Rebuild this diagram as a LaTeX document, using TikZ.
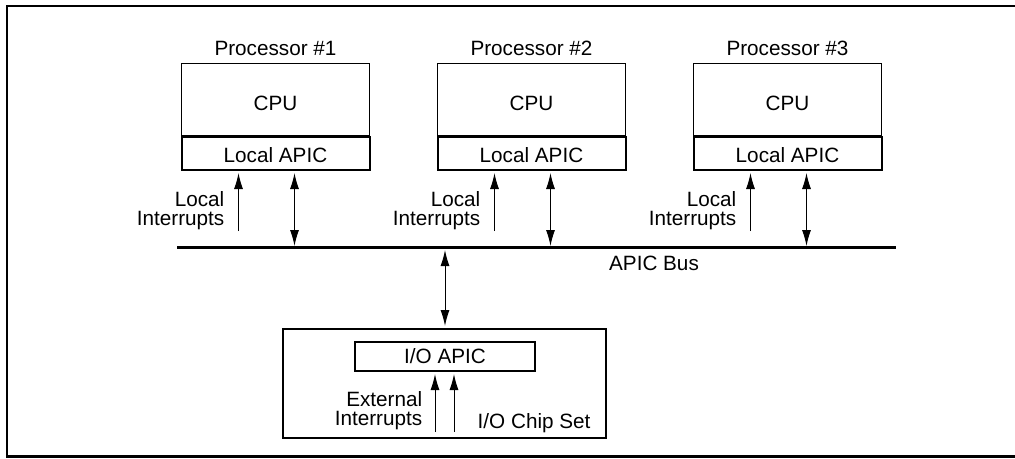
\documentclass[tikz,border=0pt]{standalone}
\usepackage{fontspec}
\setmainfont{Liberation Sans}
\usetikzlibrary{arrows.meta,positioning}
\begin{document}
\begin{tikzpicture}[x=1pt, y=-1pt, line join=miter, >={Latex[length=16pt,width=9pt]}, font=\fontsize{20.7pt}{19.5pt}\selectfont]
	\tikzset{
		cpubox/.style={draw, line width=1pt, minimum width=188pt, minimum height=72pt, inner sep=0pt, text height=23pt, anchor=north west},
		apicbox/.style={draw, line width=2pt, minimum width=188pt, minimum height=33pt, inner sep=0pt, text height=18pt},
		iobox/.style={draw, line width=2pt, inner sep=0pt, anchor=north west},
		sig/.style={->, line width=1pt, shorten >=2pt},
		duplex/.style={<->, line width=1pt},
		lbl/.style={inner sep=0pt, align=right, anchor=east},
	}
	\useasboundingbox (0,0) rectangle (1015,458);
	% OUTER FRAME
	\draw[line width=2.2pt] (1015,6) -| (7,456.5) -- (1015,456.5);
	
	% APIC BUS
	\coordinate (busW) at (177,247);
	\coordinate (busE) at (896,247);
	\draw[line width=3pt] (busW) -- (busE);
	\node[anchor=base] (buslbl) at (654,270) {APIC Bus};
	
	% PROCESSORS WITH LOCAL APIC
	\foreach \i/\x in {1/181, 2/437, 3/693} {
		\node[cpubox] (cpu\i) at (\x,63) {CPU};
		\node[anchor=base] (name\i) at ([yshift=7.7pt]cpu\i.north) {Processor \#\i};
		\node[apicbox, below=0pt of cpu\i.south] (apic\i) {Local APIC};
		\coordinate (irq\i) at ([xshift=58pt,yshift=-60pt]apic\i.south west);
		\draw[sig] (irq\i) -- (irq\i |- apic\i.south);
		\node[lbl] (irqlbl\i) at ([xshift=-14pt,yshift=20.5pt]irq\i) {Local\\Interrupts};
		\coordinate (tap\i) at ([xshift=114pt]apic\i.south west);
		\draw[duplex, shorten <=2pt, shorten >=1pt] (tap\i) -- (tap\i |- busW);
	}
	
	% I/O CHIP SET
	\node[iobox, minimum width=323pt, minimum height=109pt] (chip) at (282,328) {};
	\node[iobox, minimum width=180pt, minimum height=29pt] (ioapic) at (354,341) {I/O APIC};
	\node[anchor=base east] (chiplbl) at ([xshift=-13pt,yshift=11pt]chip.south east) {I/O Chip Set};
	\draw[duplex, shorten <=3pt, shorten >=2pt] (ioapic |- busW) -- (ioapic |- chip.north);
	
	% EXTERNAL INTERRUPTS
	\coordinate (ext1) at ([xshift=-10pt,yshift=-60pt]ioapic.south);
	\coordinate (ext2) at ([xshift=9pt,yshift=-60pt]ioapic.south);
	\draw[sig] (ext1) -- (ext1 |- ioapic.south);
	\draw[sig] (ext2) -- (ext2 |- ioapic.south);
	\node[lbl] (extlbl) at ([xshift=-12.6pt,yshift=21.5pt]ext1) {External\\Interrupts};
\end{tikzpicture}
\end{document}
